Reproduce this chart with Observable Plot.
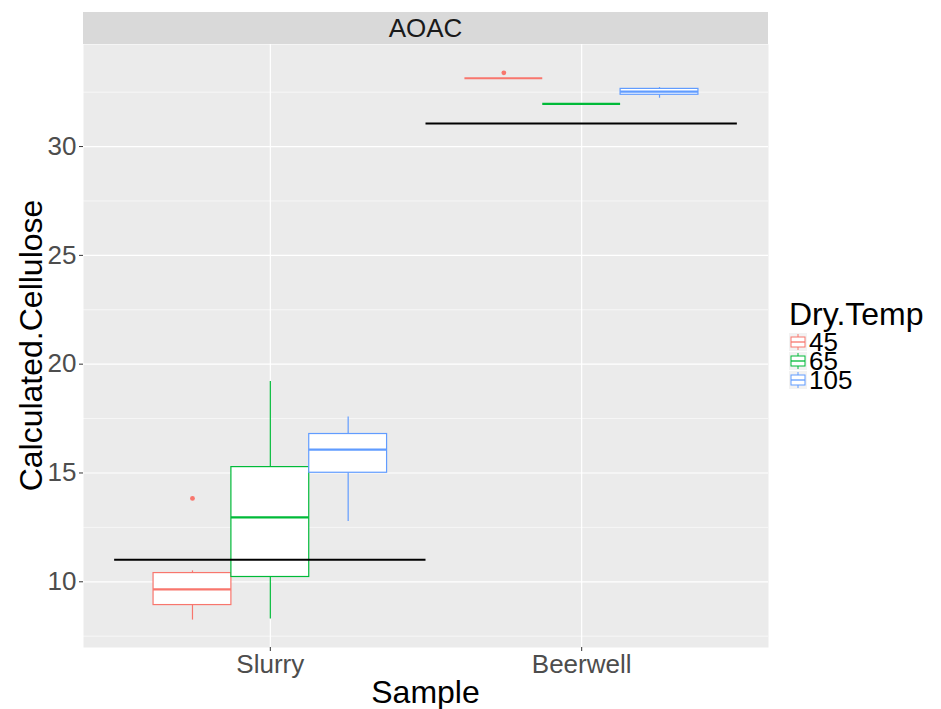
<!DOCTYPE html>
<html>
<head>
<meta charset="utf-8">
<script src="https://cdn.jsdelivr.net/npm/d3@7"></script>
<script src="https://cdn.jsdelivr.net/npm/@observablehq/plot@0.6"></script>
<style>
  html, body { margin: 0; padding: 0; background: white; }
  #chart svg { display: block; }
</style>
</head>
<body>
<div id="chart"></div>
<script>
// ---- data ----
const samples = ["Slurry", "Beerwell"];
const temps = ["45", "65", "105"];
const tempColors = ["#F8766D", "#00BA38", "#619CFF"];
const boxSample = ["Slurry", "Slurry", "Slurry", "Beerwell", "Beerwell", "Beerwell"];
const boxTemp = ["45", "65", "105", "45", "65", "105"];
const whiskerLow    = [8.24, 8.29, 12.77, 33.14, 31.96, 32.22];
const lowerQuartile = [8.93, 10.22, 15.01, 33.14, 31.96, 32.38];
const medianValue   = [9.65, 12.96, 16.07, 33.14, 31.96, 32.52];
const upperQuartile = [10.40, 15.27, 16.79, 33.14, 31.96, 32.65];
const whiskerHigh   = [10.50, 19.20, 17.57, 33.14, 31.96, 32.71];
const outlierSample = ["Slurry", "Beerwell"];
const outlierTemp = ["45", "45"];
const outlierValue = [13.83, 33.39];
const refSample = ["Slurry", "Beerwell"];
const refValue = [11.01, 31.06];
const yTicks = [10, 15, 20, 25, 30];
const yMinorTicks = [7.5, 12.5, 17.5, 22.5, 27.5, 32.5];
const stripLabel = "AOAC";
const xTitle = "Sample";
const yTitle = "Calculated.Cellulose";
const legendTitle = "Dry.Temp";

// ---- derived tables ----
const dodge = 0.25;
const pos = (s, t) => samples.indexOf(s) + 1 + (temps.indexOf(t) - 1) * dodge;
const boxes = boxSample.map((s, i) => {
  const p = pos(s, boxTemp[i]);
  return {sample: s, temp: boxTemp[i], pos: p, x1: p - dodge / 2, x2: p + dodge / 2,
    lo: whiskerLow[i], q1: lowerQuartile[i], med: medianValue[i], q3: upperQuartile[i], hi: whiskerHigh[i]};
});
const outliers = outlierSample.map((s, i) => ({temp: outlierTemp[i], pos: pos(s, outlierTemp[i]), value: outlierValue[i]}));
const refs = refSample.map((s, i) => {
  const c = samples.indexOf(s) + 1;
  return {x1: c - 0.5, x2: c + 0.5, value: refValue[i]};
});

const font = "'Liberation Sans', Arial, sans-serif";
const W = 941, H = 709;
const mL = 83, mR = 173, mT = 44, mB = 62;

const chart = Plot.plot({
  width: W,
  height: H,
  marginLeft: mL,
  marginRight: mR,
  marginTop: mT,
  marginBottom: mB,
  style: {fontFamily: font, background: "white"},
  x: {domain: [0.4, 2.6]},
  y: {domain: [6.98, 34.69]},
  color: {domain: temps, range: tempColors},
  marks: [
    Plot.frame({fill: "#EBEBEB", stroke: "none"}),
    Plot.ruleY(yMinorTicks, {stroke: "white", strokeWidth: 0.6}),
    Plot.ruleY(yTicks, {stroke: "white", strokeWidth: 1.2}),
    Plot.ruleX([1, 2], {stroke: "white", strokeWidth: 1.2}),
    Plot.ruleX(boxes, {x: "pos", y1: "lo", y2: "q1", stroke: "temp", strokeWidth: 1.2}),
    Plot.ruleX(boxes, {x: "pos", y1: "q3", y2: "hi", stroke: "temp", strokeWidth: 1.2}),
    Plot.rect(boxes, {x1: "x1", x2: "x2", y1: "q1", y2: "q3", fill: "white", stroke: "temp", strokeWidth: 1.2}),
    Plot.ruleY(boxes, {y: "med", x1: "x1", x2: "x2", stroke: "temp", strokeWidth: 2.2}),
    Plot.dot(outliers, {x: "pos", y: "value", fill: "temp", stroke: "none", r: 2.4}),
    Plot.ruleY(refs, {y: "value", x1: "x1", x2: "x2", stroke: "black", strokeWidth: 2}),
    Plot.axisY({ticks: yTicks, tickSize: 4, tickPadding: 3, fontSize: 26, stroke: "#333", fill: "#4D4D4D", label: null}),
    Plot.axisX({ticks: [1, 2], tickFormat: d => samples[d - 1], tickSize: 4, tickPadding: 3, fontSize: 26, stroke: "#333", fill: "#4D4D4D", label: null})
  ]
});

document.getElementById("chart").appendChild(chart);

// ---- decorations: strip, axis titles, legend ----
const svg = d3.select(chart);
const panelCx = mL + (W - mL - mR) / 2;

const strip = svg.append("g");
strip.append("rect").attr("x", mL).attr("y", 12).attr("width", W - mL - mR).attr("height", mT - 12).attr("fill", "#D9D9D9");
strip.append("text").attr("x", panelCx).attr("y", 37).attr("text-anchor", "middle")
  .attr("font-size", 26).attr("fill", "#1A1A1A").attr("font-family", font).text(stripLabel);

svg.append("text").attr("x", panelCx).attr("y", 703).attr("text-anchor", "middle")
  .attr("font-size", 32).attr("fill", "black").attr("font-family", font).text(xTitle);

svg.append("text").attr("transform", `translate(42,${mT + (H - mT - mB) / 2}) rotate(-90)`)
  .attr("text-anchor", "middle").attr("font-size", 32).attr("fill", "black").attr("font-family", font).text(yTitle);

const lg = svg.append("g").attr("text-anchor", "start");
lg.append("text").attr("x", 789).attr("y", 325).attr("text-anchor", "start").attr("font-size", 32).attr("fill", "black")
  .attr("font-family", font).text(legendTitle);
temps.forEach((t, i) => {
  const cy = 342 + i * 19;
  const kx = 789, kw = 18;
  const c = tempColors[i];
  const g = lg.append("g");
  g.append("rect").attr("x", kx).attr("y", cy - 9).attr("width", kw).attr("height", 18).attr("fill", "#F2F2F2");
  g.append("line").attr("x1", kx + kw / 2).attr("x2", kx + kw / 2).attr("y1", cy - 8).attr("y2", cy + 8)
    .attr("stroke", c).attr("stroke-width", 1);
  g.append("rect").attr("x", kx + 2).attr("y", cy - 5).attr("width", kw - 4).attr("height", 10)
    .attr("fill", "white").attr("stroke", c).attr("stroke-width", 1);
  g.append("line").attr("x1", kx + 2).attr("x2", kx + kw - 2).attr("y1", cy).attr("y2", cy)
    .attr("stroke", c).attr("stroke-width", 1.3);
  lg.append("text").attr("x", 809).attr("y", cy + 9).attr("text-anchor", "start").attr("font-size", 26).attr("fill", "black")
    .attr("font-family", font).text(t);
});
</script>
</body>
</html>
